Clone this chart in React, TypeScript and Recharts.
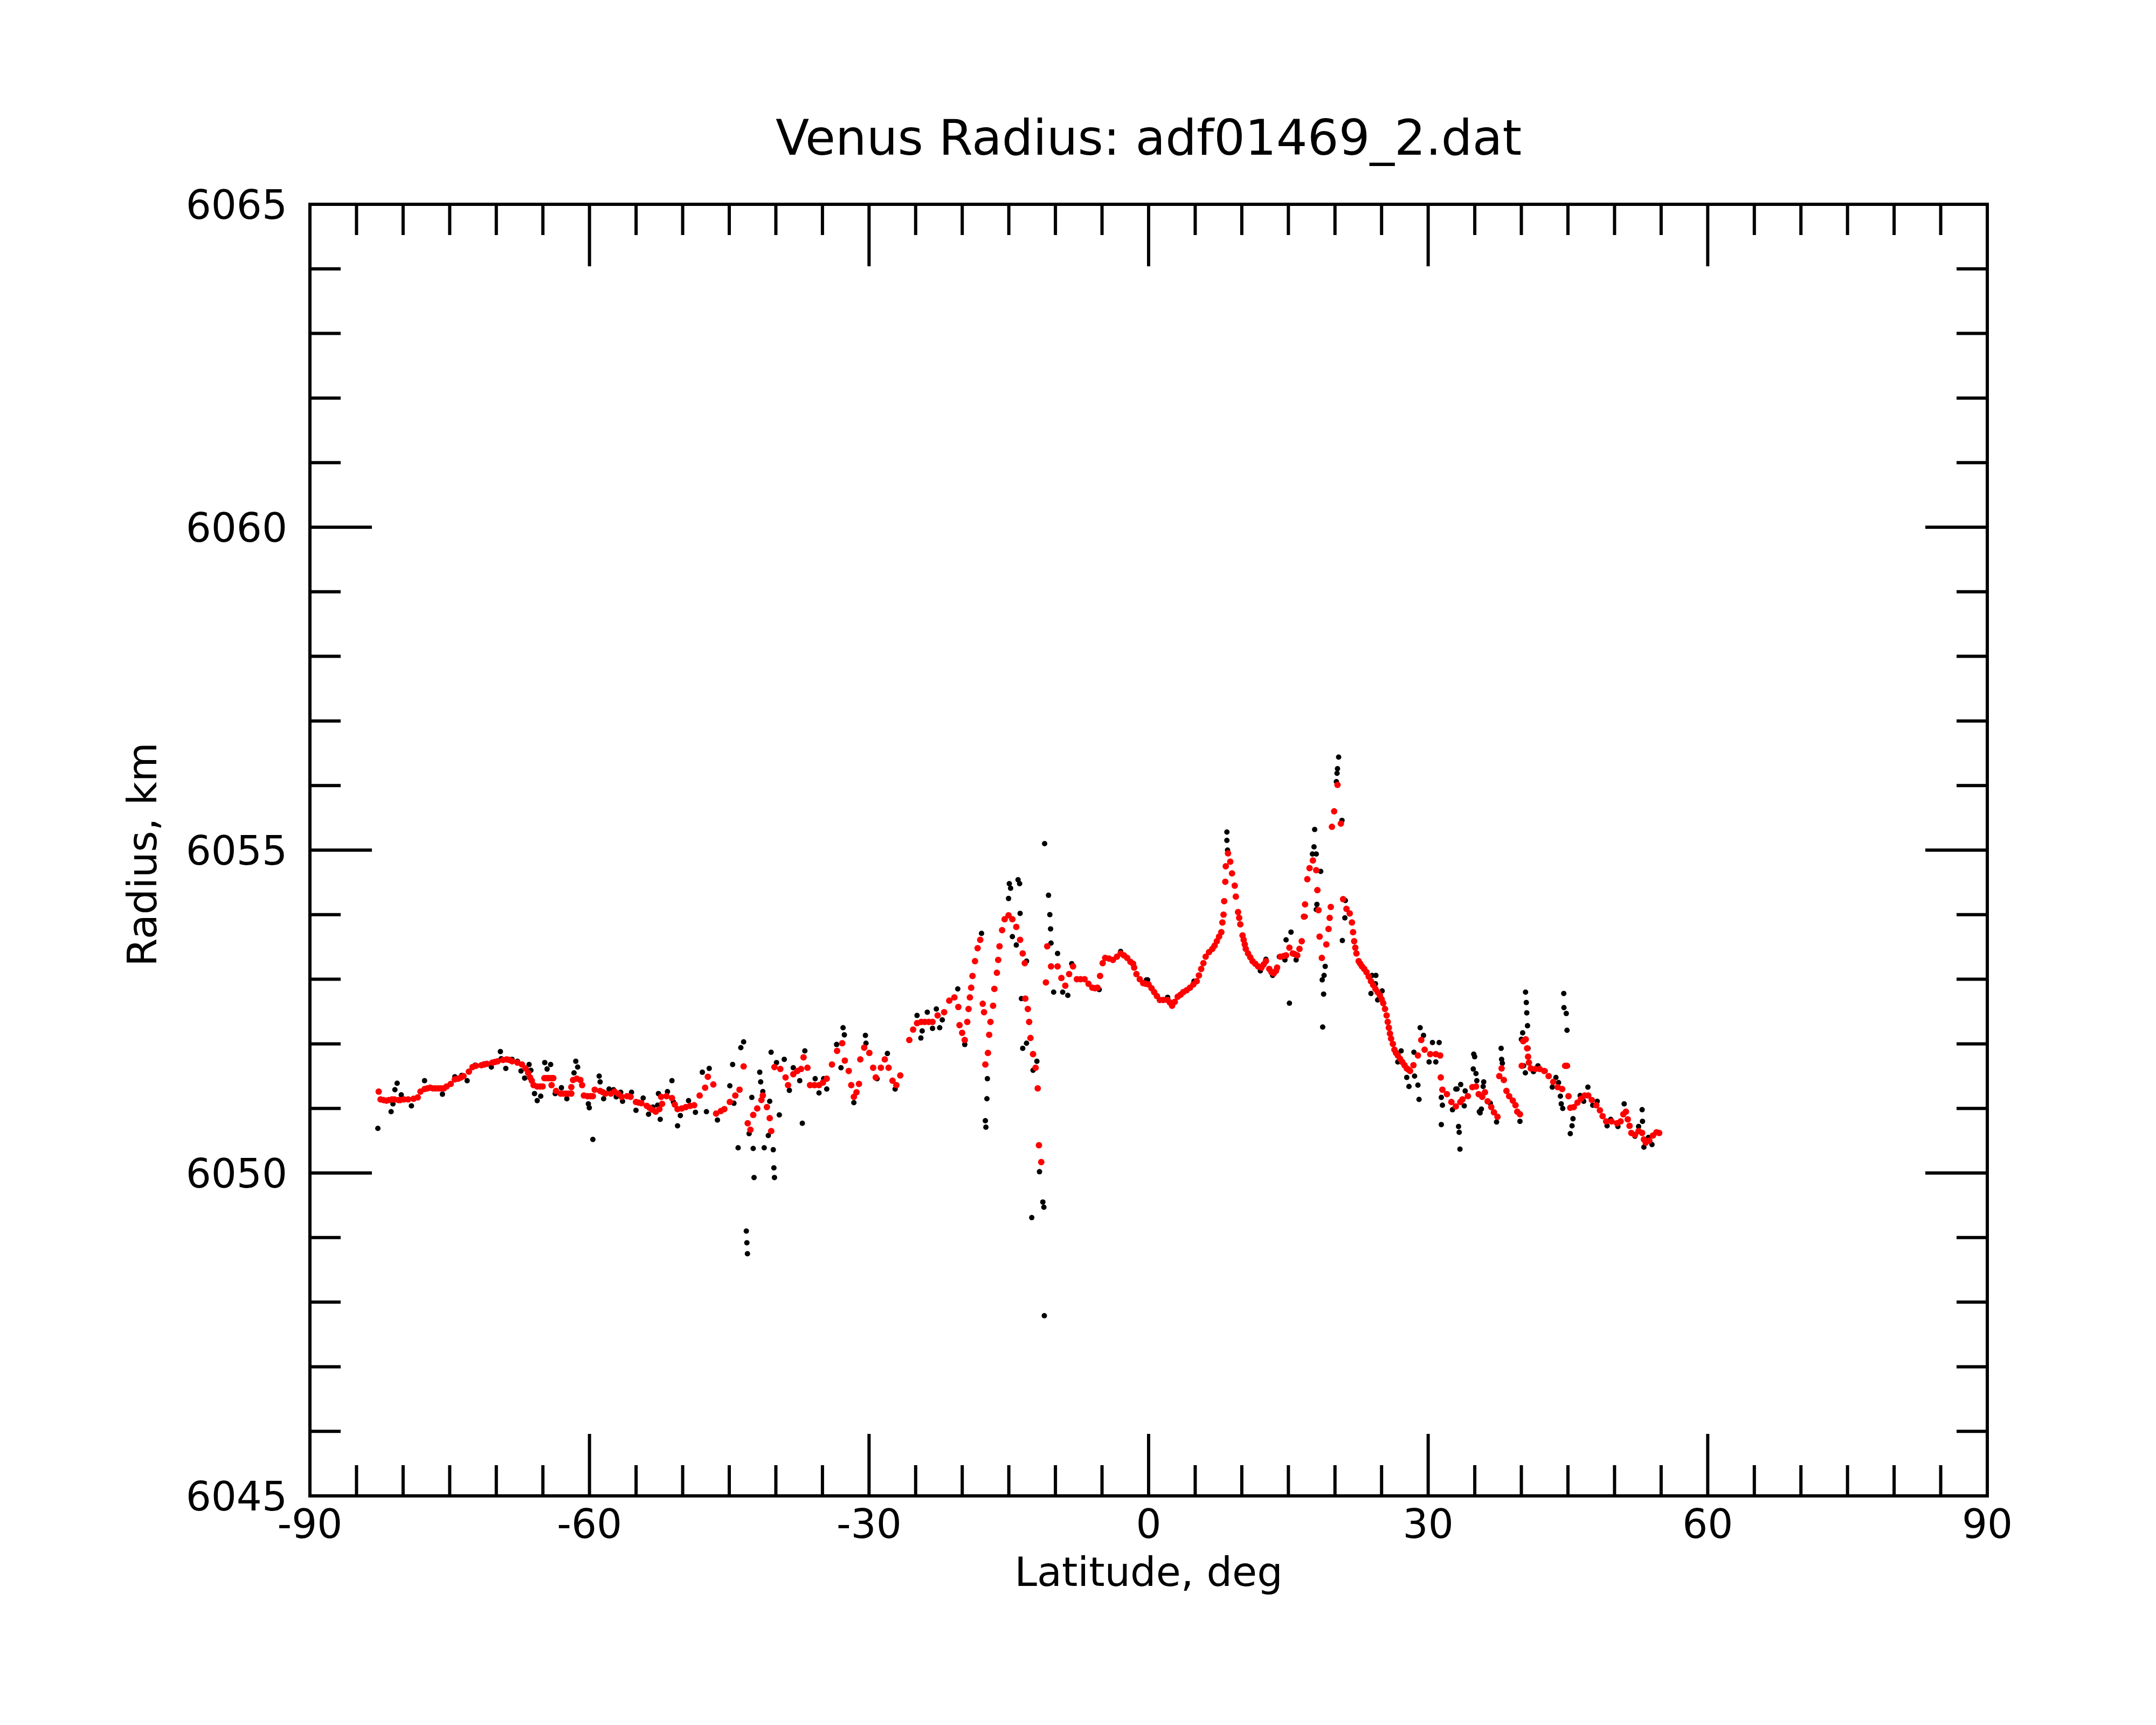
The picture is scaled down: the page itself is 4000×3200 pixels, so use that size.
// @ts-nocheck
import React from 'react'
import { ScatterChart, Scatter, XAxis, YAxis, ReferenceArea } from 'recharts'

const W = 4000
const H = 3200
const PLOT = { left: 575, right: 3687, top: 379, bottom: 2775 }
const AXIS_SIZE = 20
const FONT = '"DejaVu Sans", Verdana, sans-serif'
const INK = '#000'

const latTicks = [
  -90, -85, -80, -75, -70, -65, -60, -55, -50, -45, -40, -35, -30, -25, -20, -15, -10, -5,
  0, 5, 10, 15, 20, 25, 30, 35, 40, 45, 50, 55, 60, 65, 70, 75, 80, 85, 90,
]
const radiusTicks = [
  6045, 6046, 6047, 6048, 6049, 6050, 6051, 6052, 6053, 6054, 6055,
  6056, 6057, 6058, 6059, 6060, 6061, 6062, 6063, 6064, 6065,
]

// smoothed profile (red), [latitude deg, radius km]
const smoothSouth = [
  [-82.62, 6051.26], [-82.42, 6051.14], [-82.12, 6051.13], [-81.8, 6051.12], [-81.53, 6051.13],
  [-81.2, 6051.14], [-80.94, 6051.14], [-80.5, 6051.13], [-80.3, 6051.13], [-79.91, 6051.14],
  [-79.46, 6051.14], [-78.88, 6051.15], [-78.43, 6051.17], [-78.14, 6051.26], [-77.69, 6051.3],
  [-77.4, 6051.31], [-77.1, 6051.32], [-76.8, 6051.31], [-76.51, 6051.31], [-76.2, 6051.31],
  [-75.92, 6051.31], [-75.63, 6051.31], [-75.33, 6051.34], [-74.89, 6051.38], [-74.45, 6051.45],
  [-74.09, 6051.46], [-73.8, 6051.48], [-73.52, 6051.5], [-72.94, 6051.57], [-72.55, 6051.64],
  [-72.17, 6051.66], [-71.59, 6051.67], [-71.3, 6051.68], [-71.01, 6051.69], [-70.43, 6051.71],
  [-70.14, 6051.72], [-69.85, 6051.73], [-69.27, 6051.75], [-68.89, 6051.76], [-68.6, 6051.75],
  [-68.31, 6051.73], [-67.73, 6051.71], [-67.25, 6051.68], [-66.86, 6051.62], [-66.58, 6051.55],
  [-66.38, 6051.48], [-66.19, 6051.43], [-66.0, 6051.36], [-65.61, 6051.34], [-65.3, 6051.34],
  [-65.03, 6051.34], [-64.84, 6051.47], [-64.6, 6051.47], [-64.36, 6051.47], [-64.1, 6051.47],
  [-63.88, 6051.47], [-64.07, 6051.36], [-63.59, 6051.27], [-63.1, 6051.23], [-62.8, 6051.23],
  [-62.53, 6051.23], [-62.25, 6051.23], [-61.95, 6051.23], [-61.95, 6051.33], [-61.76, 6051.44],
  [-61.37, 6051.46], [-60.98, 6051.44], [-60.79, 6051.36], [-60.6, 6051.2], [-60.21, 6051.19],
  [-59.9, 6051.19], [-59.64, 6051.19], [-59.44, 6051.29], [-58.86, 6051.27], [-58.55, 6051.25],
  [-58.29, 6051.23], [-57.71, 6051.23], [-57.32, 6051.26], [-56.94, 6051.23], [-56.55, 6051.18],
  [-55.97, 6051.19], [-55.59, 6051.18], [-55.01, 6051.1], [-54.72, 6051.09], [-54.43, 6051.08],
  [-53.85, 6051.04], [-53.56, 6051.01], [-53.27, 6050.98], [-52.89, 6050.95], [-52.5, 6050.99],
  [-52.21, 6051.07], [-52.31, 6051.18], [-51.73, 6051.19], [-51.15, 6051.16], [-50.85, 6051.06],
  [-50.55, 6050.99], [-50.1, 6051.0], [-49.66, 6051.02], [-49.2, 6051.04], [-48.77, 6051.05],
  [-48.18, 6051.2], [-47.59, 6051.32], [-47.3, 6051.49], [-46.71, 6051.37], [-46.41, 6050.92],
  [-45.9, 6050.96], [-45.53, 6050.99], [-44.94, 6051.1], [-44.35, 6051.2], [-43.9, 6051.29],
  [-43.46, 6051.65], [-43.02, 6050.77], [-42.73, 6050.67], [-42.43, 6050.9], [-42.0, 6051.0],
  [-41.55, 6051.13], [-41.4, 6051.2], [-40.96, 6051.02], [-40.66, 6050.85], [-40.5, 6050.65],
  [-40.15, 6051.64], [-39.52, 6051.61], [-38.96, 6051.48], [-38.69, 6051.36], [-38.13, 6051.53],
  [-37.7, 6051.58], [-37.3, 6051.61], [-37.03, 6051.79], [-36.61, 6051.63], [-36.33, 6051.36],
  [-35.85, 6051.36], [-35.37, 6051.36], [-34.95, 6051.4], [-34.54, 6051.46], [-33.98, 6051.68],
  [-33.43, 6051.89], [-32.88, 6052.01], [-32.6, 6051.74], [-32.18, 6051.58], [-31.91, 6051.36],
  [-31.63, 6051.18], [-31.35, 6051.25], [-31.08, 6051.38], [-30.94, 6051.76], [-30.52, 6051.94],
  [-29.97, 6051.86], [-29.56, 6051.63], [-29.28, 6051.48], [-28.73, 6051.63], [-28.31, 6051.76],
  [-27.9, 6051.63], [-27.48, 6051.43], [-27.07, 6051.36], [-26.65, 6051.51],
]

const smoothMid = [
  [-25.68, 6052.06], [-25.27, 6052.22], [-24.85, 6052.32], [-24.4, 6052.34], [-24.02, 6052.34],
  [-23.6, 6052.34], [-23.19, 6052.34], [-22.64, 6052.44], [-21.94, 6052.49], [-21.39, 6052.67],
  [-20.84, 6052.72], [-20.42, 6052.57], [-20.29, 6052.29], [-20.01, 6052.17], [-19.73, 6052.06],
  [-19.46, 6052.34], [-19.32, 6052.54], [-19.18, 6052.72], [-19.04, 6052.87], [-18.9, 6053.05],
  [-18.63, 6053.28], [-18.35, 6053.48], [-18.07, 6053.61], [-17.8, 6052.62], [-17.66, 6052.49],
  [-17.52, 6051.68], [-17.24, 6051.86], [-17.11, 6052.14], [-16.97, 6052.34], [-16.69, 6052.59],
  [-16.55, 6052.85], [-16.28, 6053.1], [-16.14, 6053.3], [-16.0, 6053.51], [-15.72, 6053.76],
  [-15.45, 6053.93], [-15.03, 6053.99], [-14.62, 6053.93], [-14.2, 6053.81], [-13.79, 6053.61],
  [-13.51, 6053.4], [-13.29, 6053.25], [-13.23, 6052.7], [-12.96, 6052.54], [-12.82, 6052.34],
  [-12.68, 6052.09], [-12.4, 6051.84], [-12.13, 6051.63], [-11.9, 6051.31], [-11.77, 6050.43],
  [-11.52, 6050.17], [-11.02, 6052.95], [-10.88, 6053.51], [-10.47, 6053.2], [-9.77, 6053.2],
  [-9.36, 6053.02], [-8.94, 6052.9], [-8.53, 6053.08], [-8.11, 6053.2], [-7.7, 6053.0],
  [-7.3, 6053.0], [-6.87, 6053.0], [-6.45, 6052.93], [-6.04, 6052.87], [-5.76, 6052.86],
  [-5.49, 6052.87], [-5.21, 6053.05], [-4.93, 6053.25], [-4.66, 6053.33], [-4.25, 6053.32],
  [-3.83, 6053.3], [-3.4, 6053.35], [-3.0, 6053.4], [-2.65, 6053.37], [-2.3, 6053.33],
  [-1.95, 6053.27], [-1.67, 6053.24], [-1.55, 6053.18], [-1.31, 6053.08], [-0.95, 6053.0],
  [-0.59, 6052.94], [-0.31, 6052.93], [0.0, 6052.92], [0.32, 6052.86], [0.6, 6052.8],
  [0.89, 6052.74], [1.2, 6052.68], [1.56, 6052.68], [2.04, 6052.68], [2.28, 6052.64],
  [2.52, 6052.59], [2.81, 6052.65], [3.12, 6052.73], [3.43, 6052.76], [3.72, 6052.8],
  [4.08, 6052.83], [4.44, 6052.87], [4.8, 6052.92], [5.16, 6052.97], [5.4, 6053.06],
  [5.64, 6053.16], [5.88, 6053.25], [6.12, 6053.35], [6.48, 6053.42], [6.84, 6053.47],
  [7.08, 6053.52], [7.32, 6053.59], [7.56, 6053.66], [7.8, 6053.73], [7.92, 6053.88],
  [8.04, 6054.0], [8.11, 6054.21], [8.23, 6054.51], [8.28, 6054.75], [8.52, 6054.95],
  [8.76, 6054.82], [8.95, 6054.64], [9.24, 6054.45], [9.36, 6054.28], [9.6, 6054.04],
  [9.72, 6053.95], [9.84, 6053.85],
]

const smoothNorth = [
  [10.08, 6053.68], [10.2, 6053.61], [10.32, 6053.54], [10.43, 6053.47], [10.67, 6053.4],
  [10.91, 6053.34], [11.15, 6053.28], [11.44, 6053.24], [11.75, 6053.2], [12.11, 6053.18],
  [12.35, 6053.23], [12.59, 6053.28], [12.95, 6053.16], [13.19, 6053.11], [13.43, 6053.09],
  [13.67, 6053.13], [13.79, 6053.18], [14.15, 6053.35], [14.51, 6053.36], [14.75, 6053.37],
  [15.11, 6053.49], [15.47, 6053.4], [15.66, 6053.39], [15.95, 6053.37], [16.19, 6053.47],
  [16.43, 6053.59], [16.67, 6053.97], [16.79, 6054.16], [17.03, 6054.55], [17.27, 6054.72],
  [17.63, 6054.84], [17.99, 6054.69], [18.11, 6054.38], [18.23, 6054.07], [18.35, 6053.66],
  [18.59, 6053.33], [19.07, 6053.54], [19.31, 6053.78], [19.43, 6053.95], [19.55, 6054.12],
  [19.67, 6055.36], [19.91, 6055.6], [20.27, 6056.01], [20.63, 6055.41], [20.87, 6054.24],
  [21.23, 6054.09], [21.58, 6054.02], [21.82, 6053.88], [21.94, 6053.73], [22.06, 6053.59],
  [22.18, 6053.49], [22.3, 6053.4], [22.54, 6053.28], [22.71, 6053.24], [22.9, 6053.2],
  [23.14, 6053.16], [23.38, 6053.11], [23.62, 6053.04], [23.86, 6052.97], [24.1, 6052.91],
  [24.34, 6052.85], [24.58, 6052.8], [24.82, 6052.75], [25.01, 6052.69], [25.18, 6052.63],
  [25.37, 6052.54], [25.54, 6052.44], [25.66, 6052.34], [25.78, 6052.25], [25.9, 6052.16],
  [26.02, 6052.08], [26.21, 6052.0], [26.38, 6051.91], [26.55, 6051.86], [26.74, 6051.82],
  [26.98, 6051.77], [27.22, 6051.72], [27.46, 6051.67], [27.7, 6051.62], [27.89, 6051.6],
  [28.06, 6051.58], [28.42, 6051.67], [28.9, 6051.82], [29.26, 6052.06], [29.62, 6051.91],
  [30.22, 6051.84], [30.82, 6051.84], [31.29, 6051.82], [31.35, 6051.48], [31.53, 6051.29],
  [32.01, 6051.22], [32.49, 6051.1], [32.97, 6051.03], [33.45, 6051.1], [33.68, 6051.14],
  [34.26, 6051.19], [34.74, 6051.33], [35.13, 6051.34], [35.42, 6051.22], [35.8, 6051.18],
  [36.09, 6051.25], [36.38, 6051.11], [36.77, 6051.02], [37.06, 6050.94], [37.44, 6050.87],
  [37.63, 6051.5], [37.88, 6051.62], [38.12, 6051.44], [38.4, 6051.27], [38.69, 6051.19],
  [39.08, 6051.12], [39.37, 6051.05], [39.56, 6050.95], [39.85, 6050.91], [40.04, 6051.66],
  [40.2, 6052.04], [40.47, 6052.07], [40.62, 6051.93], [40.72, 6051.8], [40.81, 6051.71],
  [41.01, 6051.62], [41.49, 6051.61], [41.97, 6051.61], [42.45, 6051.58], [42.93, 6051.5],
  [43.42, 6051.41], [43.9, 6051.33], [44.38, 6051.3], [44.7, 6051.66], [44.9, 6051.66],
  [45.06, 6051.19], [45.25, 6051.01], [45.63, 6051.02], [46.02, 6051.09], [46.4, 6051.15],
  [46.79, 6051.2], [47.18, 6051.2], [47.56, 6051.13], [48.04, 6051.05], [48.43, 6050.97],
  [48.72, 6050.88], [49.1, 6050.8], [49.68, 6050.8], [50.26, 6050.77], [50.65, 6050.8],
  [50.94, 6050.91], [51.22, 6050.95], [51.42, 6050.83], [51.61, 6050.73], [51.8, 6050.62],
  [52.19, 6050.59], [52.58, 6050.65], [52.96, 6050.62], [53.15, 6050.52], [53.35, 6050.47],
  [53.73, 6050.5], [54.12, 6050.58], [54.5, 6050.63], [54.79, 6050.62],
]

// raw samples (black), [latitude deg, radius km]
const rawSouth = [
  [-82.71, 6050.69], [-81.29, 6050.95], [-81.09, 6051.07], [-80.88, 6051.29], [-80.64, 6051.39],
  [-80.2, 6051.21], [-79.11, 6051.04], [-77.7, 6051.43], [-75.78, 6051.22], [-74.45, 6051.49],
  [-73.71, 6051.51], [-73.13, 6051.43], [-72.26, 6051.67], [-71.3, 6051.69], [-70.53, 6051.64],
  [-69.56, 6051.88], [-69.47, 6051.77], [-68.98, 6051.62], [-68.31, 6051.76], [-67.73, 6051.73],
  [-67.35, 6051.58], [-66.96, 6051.47], [-66.48, 6051.68], [-66.29, 6051.59], [-65.9, 6051.23],
  [-65.61, 6051.12], [-65.23, 6051.19], [-64.8, 6051.71], [-64.55, 6051.61], [-64.17, 6051.68],
  [-63.68, 6051.23], [-63.01, 6051.32], [-62.43, 6051.15], [-61.66, 6051.55], [-61.47, 6051.73],
  [-61.27, 6051.64], [-60.12, 6051.07], [-60.02, 6051.01], [-59.64, 6050.52], [-58.96, 6051.5],
  [-58.86, 6051.41], [-58.48, 6051.15], [-57.9, 6051.3], [-57.42, 6051.29], [-57.13, 6051.18],
  [-56.65, 6051.25], [-56.45, 6051.11], [-55.49, 6051.25], [-55.01, 6050.97], [-54.24, 6051.16],
  [-53.66, 6050.91], [-53.2, 6051.02], [-52.69, 6051.05], [-52.6, 6051.23], [-52.41, 6050.83],
  [-51.63, 6051.26], [-51.15, 6051.43], [-50.99, 6051.1], [-50.55, 6050.73], [-50.25, 6050.89],
  [-49.37, 6051.12], [-48.63, 6050.94], [-47.89, 6051.56], [-47.45, 6050.95], [-47.15, 6051.62],
  [-46.27, 6050.82], [-44.94, 6051.35], [-44.64, 6051.68], [-44.5, 6051.08], [-44.05, 6050.39],
  [-43.76, 6051.94], [-43.46, 6052.03], [-43.17, 6049.1], [-43.11, 6048.92], [-43.05, 6048.75],
  [-42.87, 6050.61], [-42.58, 6051.17], [-42.43, 6050.38], [-42.34, 6049.93], [-41.73, 6051.56],
  [-41.63, 6051.41], [-41.4, 6051.26], [-41.25, 6050.39], [-40.81, 6050.58], [-40.66, 6051.11],
  [-40.51, 6051.87], [-40.28, 6050.36], [-40.21, 6050.08], [-40.15, 6049.93], [-39.93, 6051.71],
  [-39.63, 6050.9], [-39.1, 6051.76], [-38.55, 6051.28], [-38.13, 6051.63],
]

const rawMid = [
  [-37.44, 6051.43], [-37.16, 6050.77], [-36.89, 6051.89], [-35.78, 6051.46], [-35.37, 6051.24],
  [-34.87, 6051.46], [-34.54, 6051.3], [-33.48, 6051.99], [-33.01, 6051.63], [-32.79, 6052.25],
  [-32.65, 6052.14], [-31.63, 6051.09], [-30.39, 6052.13], [-30.33, 6052.01], [-29.14, 6051.46],
  [-28.03, 6051.85], [-27.2, 6051.3], [-24.85, 6052.44], [-24.44, 6052.09], [-24.3, 6052.2],
  [-23.75, 6052.49], [-23.19, 6052.24], [-22.78, 6052.54], [-22.42, 6052.25], [-22.14, 6052.37],
  [-20.48, 6052.85], [-19.73, 6051.99], [-17.93, 6053.71], [-17.52, 6050.81], [-17.46, 6050.71],
  [-17.35, 6051.15], [-17.3, 6051.46], [-15.03, 6054.25], [-14.95, 6054.48], [-14.81, 6054.41],
  [-14.62, 6053.66], [-14.2, 6053.53], [-14.01, 6054.54], [-13.84, 6054.48], [-13.79, 6054.02],
  [-13.65, 6052.7], [-13.51, 6051.93], [-13.1, 6052.01], [-13.1, 6053.28], [-12.54, 6049.31],
  [-12.4, 6051.59], [-11.99, 6051.73], [-11.71, 6050.02], [-11.35, 6049.55], [-11.24, 6049.47],
  [-11.19, 6047.79], [-11.16, 6055.1], [-10.74, 6054.3], [-10.6, 6054.0], [-10.52, 6053.78],
  [-10.47, 6053.56], [-10.19, 6052.8], [-9.77, 6053.4], [-9.22, 6052.8], [-8.67, 6052.75],
  [-8.25, 6053.24], [-5.3, 6052.84], [-3.0, 6053.43], [-0.23, 6052.99], [-0.11, 6052.99],
  [2.04, 6052.72], [4.87, 6052.97], [8.4, 6055.28], [8.4, 6055.15], [8.47, 6055.0],
]

const rawNorth = [
  [11.99, 6053.13], [12.59, 6053.31], [13.31, 6053.06], [14.03, 6053.35], [14.63, 6053.3],
  [14.75, 6053.61], [15.11, 6052.63], [15.28, 6053.73], [15.83, 6053.3], [16.79, 6053.97],
  [17.58, 6054.94], [17.75, 6055.05], [17.82, 6055.32], [17.99, 6054.94], [17.99, 6054.08],
  [18.06, 6054.16], [18.47, 6054.67], [18.63, 6052.99], [18.68, 6052.26], [18.78, 6052.77],
  [18.83, 6053.06], [18.95, 6053.2], [20.15, 6056.06], [20.22, 6056.19], [20.27, 6056.26],
  [20.39, 6056.44], [20.75, 6055.46], [20.79, 6053.6], [21.06, 6053.95], [21.11, 6054.22],
  [23.86, 6052.78], [23.98, 6053.06], [24.34, 6052.93], [24.39, 6053.06], [24.58, 6052.68],
  [25.06, 6052.82], [26.74, 6051.72], [27.1, 6051.89], [27.7, 6051.48], [27.94, 6051.34],
  [28.47, 6051.87], [28.54, 6051.5], [28.9, 6051.36], [29.02, 6051.14], [29.14, 6052.25],
  [29.5, 6052.13], [30.1, 6051.72], [30.46, 6052.02], [30.82, 6051.72], [31.18, 6052.02],
  [31.41, 6051.17], [31.41, 6050.75], [31.53, 6051.05], [32.61, 6050.98], [32.97, 6051.3],
  [33.1, 6051.3], [33.26, 6050.72], [33.33, 6050.63], [33.41, 6050.37], [33.49, 6051.37],
  [33.87, 6051.04], [33.97, 6051.27], [34.84, 6051.61], [34.89, 6051.84], [34.99, 6051.8],
  [35.13, 6051.54], [35.22, 6051.43], [35.49, 6050.95], [35.57, 6050.93], [35.71, 6050.99],
  [35.9, 6051.34], [35.96, 6051.41], [36.67, 6051.08], [37.34, 6050.79], [37.83, 6051.93],
  [37.88, 6051.76], [37.96, 6051.7], [39.85, 6050.8], [40.0, 6052.07], [40.14, 6052.17],
  [40.24, 6051.66], [40.43, 6051.55], [40.45, 6052.8], [40.53, 6052.64], [40.58, 6052.48],
  [40.66, 6052.28], [40.72, 6051.93], [41.3, 6051.57], [41.78, 6051.66], [42.55, 6051.58],
  [43.32, 6051.33], [43.71, 6051.48], [43.99, 6051.4], [44.19, 6051.19], [44.28, 6051.07],
  [44.44, 6051.0], [44.55, 6052.78], [44.57, 6052.56], [44.82, 6052.47], [44.9, 6052.21],
  [45.25, 6050.61], [45.44, 6050.73], [45.54, 6050.84], [46.31, 6051.2], [46.69, 6051.11],
  [47.14, 6051.33], [47.66, 6051.05], [48.14, 6051.11], [49.2, 6050.73], [49.59, 6050.83],
  [50.36, 6050.72], [51.03, 6051.07], [52.19, 6050.57], [52.58, 6050.72], [52.96, 6050.98],
  [53.0, 6050.8], [53.15, 6050.4], [53.64, 6050.55], [54.02, 6050.44],
]

const toPoints = (pairs) => pairs.map(([lat, r]) => ({ lat, r }))
const rawData = toPoints([...rawSouth, ...rawMid, ...rawNorth])
const smoothData = toPoints([...smoothSouth, ...smoothMid, ...smoothNorth])

function LatTick({ x, payload }) {
  const major = payload.value % 30 === 0
  const len = major ? 115 : 57
  return (
    <g>
      <line x1={x} x2={x} y1={PLOT.bottom} y2={PLOT.bottom - len} stroke={INK} strokeWidth={6} />
      <line x1={x} x2={x} y1={PLOT.top} y2={PLOT.top + len} stroke={INK} strokeWidth={6} />
      {major && (
        <text x={x} y={PLOT.bottom + 78} textAnchor="middle" fontSize={74} fontFamily={FONT} fill={INK}>
          {payload.value}
        </text>
      )}
    </g>
  )
}

function RadiusTick({ y, payload }) {
  const major = payload.value % 5 === 0
  const len = major ? 115 : 57
  return (
    <g>
      <line x1={PLOT.left} x2={PLOT.left + len} y1={y} y2={y} stroke={INK} strokeWidth={6} />
      <line x1={PLOT.right} x2={PLOT.right - len} y1={y} y2={y} stroke={INK} strokeWidth={6} />
      {major && (
        <text x={PLOT.left - 42} y={y + 27} textAnchor="end" fontSize={74} fontFamily={FONT} fill={INK}>
          {payload.value}
        </text>
      )}
    </g>
  )
}

const rawDot = (p) => <circle cx={p.cx} cy={p.cy} r={5} fill="#000" />
const smoothDot = (p) => <circle cx={p.cx} cy={p.cy} r={6} fill="#ff0000" />

export default function App() {
  return (
    <div style={{ position: 'absolute', left: 0, top: 0, width: W, height: H, background: '#fff' }}>
      <ScatterChart
        width={W}
        height={H}
        margin={{
          top: PLOT.top,
          right: W - PLOT.right,
          bottom: H - PLOT.bottom - AXIS_SIZE,
          left: PLOT.left - AXIS_SIZE,
        }}
      >
        <XAxis
          type="number"
          dataKey="lat"
          domain={[-90, 90]}
          ticks={latTicks}
          interval={0}
          height={AXIS_SIZE}
          axisLine={false}
          tickLine={false}
          tick={<LatTick />}
        />
        <YAxis
          type="number"
          dataKey="r"
          domain={[6045, 6065]}
          ticks={radiusTicks}
          interval={0}
          width={AXIS_SIZE}
          axisLine={false}
          tickLine={false}
          tick={<RadiusTick />}
        />
        <Scatter data={rawData} shape={rawDot} isAnimationActive={false} />
        <Scatter data={smoothData} shape={smoothDot} isAnimationActive={false} />
        <ReferenceArea x1={-90} x2={90} y1={6045} y2={6065} fill="none" stroke={INK} strokeWidth={6} />
      </ScatterChart>
      <svg
        width={W}
        height={H}
        style={{ position: 'absolute', left: 0, top: 0, pointerEvents: 'none' }}
        fontFamily={FONT}
        fill={INK}
      >
        <text x={2131} y={287} textAnchor="middle" fontSize={91}>
          Venus Radius: adf01469_2.dat
        </text>
        <text x={2131} y={2942} textAnchor="middle" fontSize={75}>
          Latitude, deg
        </text>
        <text x={290} y={1585} textAnchor="middle" fontSize={75} transform="rotate(-90 290 1585)">
          Radius, km
        </text>
      </svg>
    </div>
  )
}
